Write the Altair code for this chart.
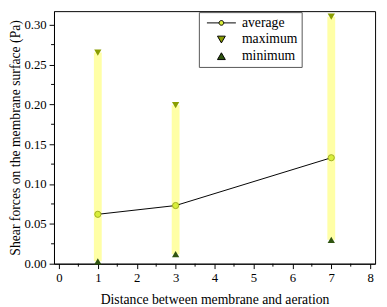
import altair as alt
import pandas as pd

distance = [1, 3, 7]
average = [0.062, 0.073, 0.133]
maximum = [0.265, 0.199, 0.310]
minimum = [0.003, 0.012, 0.030]

x_minor = [0.5, 1.5, 2.5, 3.5, 4.5, 5.5, 6.5, 7.5]
y_minor = [0.025, 0.075, 0.125, 0.175, 0.225, 0.275]
series_names = ["average", "maximum", "minimum"]

df = pd.DataFrame({"d": distance, "avg": average, "max": maximum, "min": minimum})
long = pd.DataFrame({
    "d": distance * 3,
    "v": average + maximum + minimum,
    "series": [s for s in series_names for _ in distance],
})

FONT = "Times New Roman, Liberation Serif, serif"
W, H = 328, 258
xs = alt.Scale(domain=[0, 8], nice=False, zero=False)
ys = alt.Scale(domain=[0, 0.317], nice=False)

xax = alt.Axis(values=list(range(0, 9)), format="d", tickSize=5, labelPadding=3,
               title="Distance between membrane and aeration", titlePadding=9,
               grid=False)
yax = alt.Axis(values=[0, 0.05, 0.10, 0.15, 0.20, 0.25, 0.30], format=".2f", tickSize=5,
               labelPadding=3, title="Shear forces on the membrane surface (Pa)",
               titlePadding=1, grid=False)

base = alt.Chart(df)

bars = base.mark_bar(size=8, color="#ffffa6").encode(
    x=alt.X("d:Q", scale=xs, axis=xax),
    y=alt.Y("min:Q", scale=ys, axis=yax),
    y2="max:Q",
)

line = base.mark_line(color="black", strokeWidth=1).encode(
    x=alt.X("d:Q", scale=xs), y=alt.Y("avg:Q", scale=ys))

avg_pts = base.mark_point(shape="circle", filled=True, size=40, fill="#d9ee3a",
                          stroke="#a0b020", strokeWidth=1, opacity=1).encode(
    x=alt.X("d:Q", scale=xs), y=alt.Y("avg:Q", scale=ys))

max_pts = base.mark_point(shape="triangle-down", filled=True, size=55, color="#8a9e00",
                          opacity=1).encode(
    x=alt.X("d:Q", scale=xs), y=alt.Y("max:Q", scale=ys))

min_pts = base.mark_point(shape="triangle-up", filled=True, size=55, color="#2f5410",
                          opacity=1).encode(
    x=alt.X("d:Q", scale=xs), y=alt.Y("min:Q", scale=ys))

avg_symbol = ("M-3.7,0H-0.6M0.6,0H3.7"
              "M0.6,0A0.6,0.6 0 1,1 -0.6,0A0.6,0.6 0 1,1 0.6,0Z")

legend_layer = alt.Chart(long).mark_point(filled=True, opacity=0, size=1).encode(
    x=alt.X("d:Q", scale=xs),
    y=alt.Y("v:Q", scale=ys),
    color=alt.Color("series:N",
                    scale=alt.Scale(domain=series_names,
                                    range=["#d9ee3a", "#8a9e00", "#2f5410"]),
                    legend=alt.Legend(title=None, orient="none", legendX=148, legendY=1,
                                      strokeColor="#555555", padding=4, fillColor="white",
                                      labelFont=FONT, labelFontSize=14, labelColor="black",
                                      symbolSize=64, symbolOpacity=1, symbolStrokeWidth=1,
                                      symbolStrokeColor="black", rowPadding=3,
                                      labelOffset=14, symbolOffset=12, cornerRadius=0)),
    shape=alt.Shape("series:N",
                    scale=alt.Scale(domain=series_names,
                                    range=[avg_symbol, "triangle-down", "triangle-up"]),
                    legend=None),
)

xminor = alt.Chart(pd.DataFrame({"m": x_minor})).mark_rule(color="black", strokeWidth=1).encode(
    x=alt.X("m:Q", scale=xs), y=alt.value(H), y2=alt.value(H + 3))
yminor = alt.Chart(pd.DataFrame({"m": y_minor})).mark_rule(color="black", strokeWidth=1).encode(
    y=alt.Y("m:Q", scale=ys), x=alt.value(-3), x2=alt.value(0))

chart = alt.layer(bars, line, avg_pts, max_pts, min_pts, legend_layer, xminor, yminor).properties(
    width=W, height=H,
    autosize=alt.AutoSizeParams(type="none"),
    padding={"left": 47, "top": 0, "right": 4, "bottom": 40},
).configure_view(stroke="black", strokeWidth=1).configure_axis(
    domainColor="black", tickColor="black", labelColor="black", titleColor="black",
    labelFont=FONT, titleFont=FONT, labelFontSize=13, titleFontSize=14,
    titleFontWeight="normal", domainWidth=1, tickWidth=1,
)

chart.save("out.html", embed_options={"renderer": "svg", "actions": False})
